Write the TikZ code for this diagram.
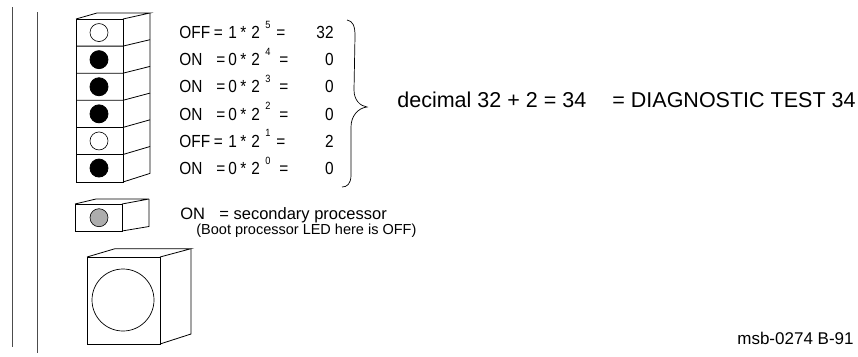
\documentclass[tikz,border=0pt]{standalone}
\usepackage{fontspec}
\setmainfont{Liberation Sans}
\newcommand{\nrw}[1]{\scalebox{0.88}[1]{#1}}
\begin{document}
\begin{tikzpicture}[x=1pt,y=-1pt,line width=0.8pt,
  rail/.style={draw=black!70,line width=0.9pt},
  ledon/.style={circle,fill=black,draw=black,minimum size=18pt,inner sep=0pt},
  ledoff/.style={circle,fill=white,draw=black,line width=0.6pt,minimum size=18pt,inner sep=0pt},
  ledgray/.style={circle,fill=black!32,draw=black,line width=0.6pt,minimum size=18pt,inner sep=0pt},
  lbl/.style={font=\fontsize{17.5}{17.5}\selectfont,inner sep=0pt,anchor=base west},
  lble/.style={font=\fontsize{17.5}{17.5}\selectfont,inner sep=0pt,anchor=base east},
  supr/.style={font=\fontsize{10.5}{10.5}\selectfont,inner sep=0pt,anchor=base west},
  bigtxt/.style={font=\fontsize{21.5}{21.5}\selectfont,inner sep=0pt,anchor=base west},
  midtxt/.style={font=\fontsize{16.5}{16.5}\selectfont,inner sep=0pt,anchor=base west},
  smalltxt/.style={font=\fontsize{14.5}{14.5}\selectfont,inner sep=0pt,anchor=base west},
  idtxt/.style={font=\fontsize{17}{17}\selectfont,inner sep=0pt,anchor=base east}]
\useasboundingbox (0,0) rectangle (858,356);
% rails
\draw[rail] (12,7) -- (12,347);
\draw[rail] (37,12) -- (37,353);
% LED stack
\draw (76,19) rectangle (123,182);
\draw (76,19) -- (97,13) -- (150,13) -- (123,19);
\draw (150,13) -- (150,173.4) -- (123,182);
\foreach \i in {1,...,5}{
  \pgfmathsetmacro\yy{19+\i*27.1}
  \pgfmathsetmacro\off{6+\i*0.4}
  \draw (76,\yy) -- (123,\yy) -- (150,\yy-\off);
}
\foreach \i/\st/\sty/\xa/\b/\e/\xb/\v in {0/OFF/ledoff/213.5/1/5/276/32,1/ON/ledon/216/0/4/279/0,2/ON/ledon/216/0/3/279/0,3/ON/ledon/216/0/2/279/0,4/OFF/ledoff/213.5/1/1/276/2,5/ON/ledon/216/0/0/279/0}{
  \pgfmathsetmacro\yc{19+27.1*(\i+0.5)}
  \node[\sty] (led\i) at (99,\yc) {};
  \node[lbl] (lab\i) at (179,\yc+6.2) {\nrw{\st}};
  \node[lbl] (eqa\i) at (\xa,\yc+6.2) {\nrw{=}};
  \node[lbl] (bit\i) at (228,\yc+6.2) {\nrw{\b}};
  \node[lbl] (mul\i) at (240,\yc+6.2) {\nrw{*}};
  \node[lbl] (two\i) at (251,\yc+6.2) {\nrw{2}};
  \node[supr] (exp\i) at (265,\yc-4) {\nrw{\e}};
  \node[lbl] (eqb\i) at (\xb,\yc+6.2) {\nrw{=}};
  \node[lble] (val\i) at (334,\yc+6.2) {\nrw{\v}};
}
% brace
\draw[line width=0.7pt] (347,20) .. controls (353,21) and (355,26) .. (355,36) -- (354,90)
  .. controls (354,100) and (360,106) .. (367,107)
  .. controls (358,108) and (351,116) .. (351,127) -- (351,175)
  .. controls (351,184) and (347,187) .. (342,187);
\node[bigtxt] (dec) at (397,107) {decimal 32 + 2 = 34};
\node[bigtxt] (diag) at (612,107) {= DIAGNOSTIC TEST 34};
% secondary LED
\draw (75,204) rectangle (122,231);
\draw (75,204) -- (96,199) -- (149,199) -- (122,204);
\draw (149,199) -- (149,226.5) -- (122,231);
\node[ledgray] (sled) at (99,217.7) {};
\node[midtxt] (on) at (180,219) {ON};
\node[midtxt] (sec) at (219,219) {= secondary processor};
\node[smalltxt] (boot) at (196,234.5) {(Boot processor LED here is OFF)};
% big button
\draw (87,257) rectangle (160,344);
\draw (87,257) -- (115,248.7) -- (191,248.7) -- (160,257);
\draw (191,248.7) -- (191,334) -- (160,344);
\node[circle,draw=black,line width=0.7pt,minimum size=62pt,inner sep=0pt] (btn) at (123,300) {};
\node[idtxt] (id) at (854,344) {msb-0274 B-91};
\end{tikzpicture}
\end{document}
